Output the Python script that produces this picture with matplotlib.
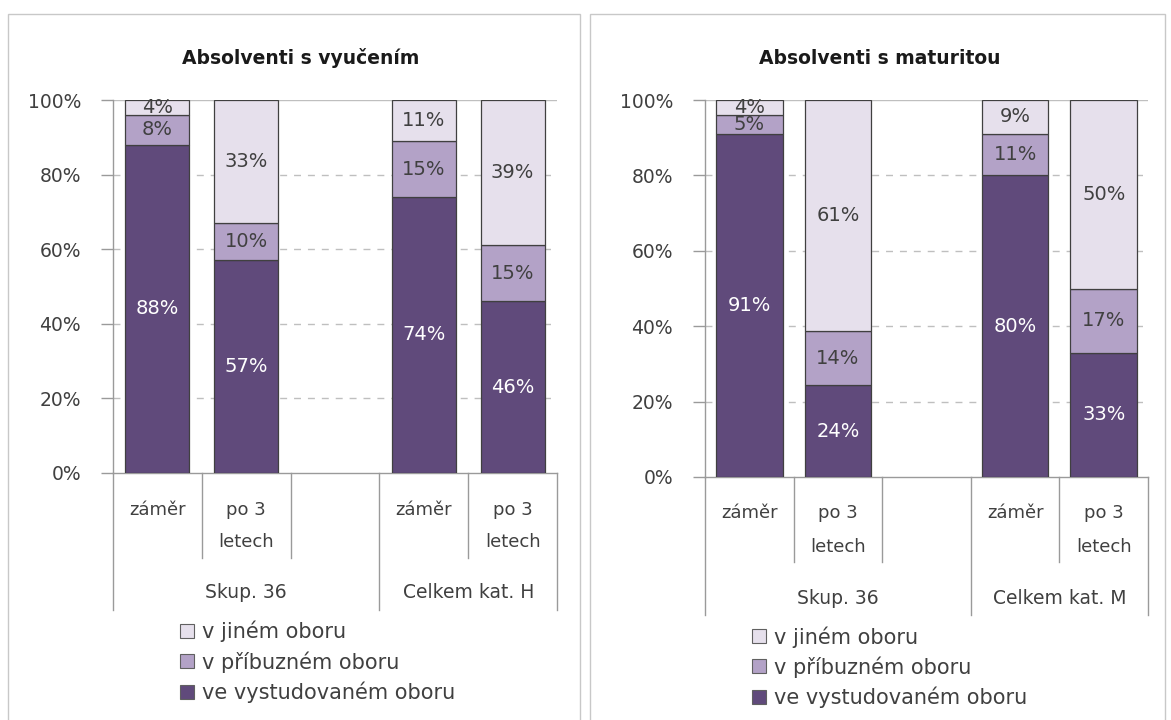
import matplotlib
matplotlib.use("Agg")
import matplotlib.pyplot as plt
from matplotlib.patches import Rectangle, Patch

plt.rcParams['font.family'] = ['DejaVu Sans']

# ---- data ----
sub_labels = ["záměr", "po 3\nletech", "", "záměr", "po 3\nletech"]
groups_H = ["Skup. 36", "Celkem kat. H"]
groups_M = ["Skup. 36", "Celkem kat. M"]
series_names = ["ve vystudovaném oboru", "v příbuzném oboru", "v jiném oboru"]

# values per slot (None = empty slot)
vyuceni_obor = [88, 57, None, 74, 46]
vyuceni_pribuzny = [8, 10, None, 15, 15]
vyuceni_jiny = [4, 33, None, 11, 39]

maturita_obor = [91, 24.4, None, 80, 33]
maturita_pribuzny = [5, 14.3, None, 11, 17]
maturita_jiny = [4, 61.3, None, 9, 50]

colors = ["#604A7B", "#B3A2C7", "#E6E0EC"]
txt_colors = ["white", "#404040", "#404040"]
W, H = 1171, 720

fig = plt.figure(figsize=(W / 100, H / 100), dpi=100)

# panel borders
for (x0, x1) in [(8, 580), (590, 1165)]:
    fig.patches.append(Rectangle((x0 / W, -0.01), (x1 - x0) / W, 1 - 14 / H + 0.01,
                                 transform=fig.transFigure, fill=False,
                                 edgecolor="#C8C8C8", lw=1.0))


def panel(rect_px, title, title_x, series, groups, lab_px, line_px, short_px,
          group_px, full_px, leg_xy, barw):
    x0, y0, x1, y1 = rect_px
    hpx = y1 - y0

    def fy(px):
        return -(px - y1) / hpx

    ax = fig.add_axes([x0 / W, 1 - y1 / H, (x1 - x0) / W, hpx / H])
    ax.set_xlim(-0.5, 4.5)
    ax.set_ylim(0, 100)
    ax.set_facecolor("none")
    for s in ["top", "right"]:
        ax.spines[s].set_visible(False)
    for s in ["left", "bottom"]:
        ax.spines[s].set_color("#9A9A9A")
        ax.spines[s].set_linewidth(1.0)
    ax.set_yticks([0, 20, 40, 60, 80, 100])
    ax.set_yticklabels(["0%", "20%", "40%", "60%", "80%", "100%"])
    ax.tick_params(axis="y", length=9, width=1, color="#9A9A9A", pad=14,
                   labelsize=13.5, labelcolor="#404040")
    ax.set_xticks([])
    for yv in [20, 40, 60, 80]:
        ax.axhline(yv, color="#BFBFBF", lw=1, ls=(0, (5, 5)), zorder=0)
    ax.axhline(100, color="#BFBFBF", lw=1, zorder=0)

    bottoms = [0] * len(sub_labels)
    for si, vals in enumerate(series):
        for i, v in enumerate(vals):
            if v is None:
                continue
            ax.bar(i, v, bottom=bottoms[i], width=barw, color=colors[si],
                   edgecolor="#404040", linewidth=0.9, zorder=3)
            ax.text(i, bottoms[i] + v / 2, f"{round(v):d}%", ha="center", va="center",
                    fontsize=14, color=txt_colors[si], zorder=4)
            bottoms[i] += v

    tr = ax.get_xaxis_transform()
    # category labels, line by line
    for i, lab in enumerate(sub_labels):
        for k, line in enumerate(lab.split("\n")):
            if line:
                ax.text(i, fy(lab_px + k * line_px), line, transform=tr,
                        ha="center", va="center", fontsize=13, color="#404040")
    # separators
    for xb in [-0.5, 2.5, 4.5]:
        ax.plot([xb, xb], [0, fy(full_px)], transform=tr, color="#9A9A9A", lw=1,
                clip_on=False)
    for xb in [0.5, 1.5, 3.5]:
        ax.plot([xb, xb], [0, fy(short_px)], transform=tr, color="#9A9A9A", lw=1,
                clip_on=False)
    ax.text(1, fy(group_px), groups[0], transform=tr, ha="center", va="center",
            fontsize=13.5, color="#404040")
    ax.text(3.5, fy(group_px), groups[1], transform=tr, ha="center", va="center",
            fontsize=13.5, color="#404040")

    fig.text(title_x / W, 1 - 58 / H, title, ha="center", va="center",
             fontsize=13.5, fontweight="bold", color="#1A1A1A")

    handles = [Patch(facecolor=colors[k], edgecolor="#606060", lw=0.8) for k in [2, 1, 0]]
    names = [series_names[k] for k in [2, 1, 0]]
    fig.legend(handles, names, loc="upper left",
               bbox_to_anchor=(leg_xy[0] / W, 1 - leg_xy[1] / H),
               bbox_transform=fig.transFigure, frameon=False,
               handlelength=0.65, handleheight=0.65, handletextpad=0.4,
               labelspacing=0.42, borderpad=0, borderaxespad=0,
               fontsize=15, labelcolor="#404040")
    return ax


panel((113, 100, 557, 473), "Absolventi s vyučením", 301,
      [vyuceni_obor, vyuceni_pribuzny, vyuceni_jiny], groups_H,
      510, 32, 558, 593, 610, (180, 621), 0.72)
panel((705, 100, 1148, 477), "Absolventi s maturitou", 880,
      [maturita_obor, maturita_pribuzny, maturita_jiny], groups_M,
      513, 34, 562, 598, 615, (752, 626), 0.75)

fig.savefig("out.png", dpi=100)
